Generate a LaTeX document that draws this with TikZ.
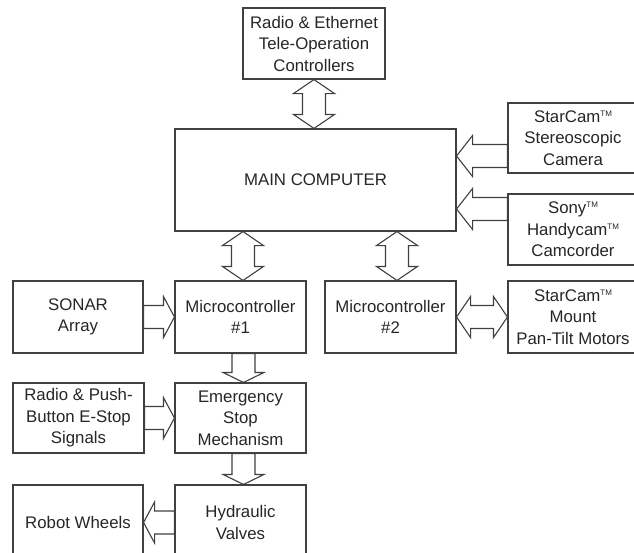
\documentclass[tikz,border=0pt]{standalone}
\usepackage{fontspec}
\setmainfont{Liberation Sans}
\usetikzlibrary{calc}

\newcommand{\shaftw}{11.5pt}
\newcommand{\headw}{20.5pt}
\newcommand{\tmk}{\raisebox{6.2pt}{\fontsize{8}{8}\selectfont TM}}

% hollow block arrow, tail at #2, tip at #3, head length #1
\newcommand{\blockarrow}[3][14pt]{%
  \draw[hollow] ($(#2)!\shaftw!90:(#3)$)
    -- ($(#3)!#1!(#2)!\shaftw!-90:(#2)$)
    -- ($(#3)!#1!(#2)!\headw!-90:(#2)$)
    -- (#3)
    -- ($(#3)!#1!(#2)!\headw!90:(#2)$)
    -- ($(#3)!#1!(#2)!\shaftw!90:(#2)$)
    -- ($(#2)!\shaftw!-90:(#3)$) -- cycle;}
% hollow block arrow with heads at both ends
\newcommand{\dblockarrow}[3][14pt]{%
  \draw[hollow] (#2)
    -- ($(#2)!#1!(#3)!\headw!90:(#3)$)
    -- ($(#2)!#1!(#3)!\shaftw!90:(#3)$)
    -- ($(#3)!#1!(#2)!\shaftw!-90:(#2)$)
    -- ($(#3)!#1!(#2)!\headw!-90:(#2)$)
    -- (#3)
    -- ($(#3)!#1!(#2)!\headw!90:(#2)$)
    -- ($(#3)!#1!(#2)!\shaftw!90:(#2)$)
    -- ($(#2)!#1!(#3)!\shaftw!-90:(#3)$)
    -- ($(#2)!#1!(#3)!\headw!-90:(#3)$)
    -- cycle;}

\begin{document}
\begin{tikzpicture}[x=1pt, y=-1pt,
  block/.style={draw=black!75, line width=1.1pt, align=center, text=black!85,
    font=\fontsize{16.8}{21.5}\selectfont, inner sep=0pt,
    minimum width=131pt, minimum height=71pt},
  hollow/.style={draw=black!75, fill=white, line width=1.1pt, line join=miter}]
  \clip (0,0) rectangle (634,552);
  % boxes
  \node[block, minimum width=142pt] (radio) at (314,43.5) {Radio \& Ethernet\\Tele-Operation\\Controllers};
  \node[block, minimum width=281pt, minimum height=102pt] (main) at (315.5,180) {MAIN COMPUTER};
  \node[block, minimum width=130pt, minimum height=70pt] (stereo) at (573,138) {StarCam\tmk\\Stereoscopic\\Camera};
  \node[block, minimum width=130pt] (sony) at (573,229.5) {Sony\tmk\\Handycam\tmk\\Camcorder};
  \node[block, minimum width=130pt, minimum height=72pt] (sonar) at (78,317) {SONAR\\Array};
  \node[block, minimum height=72pt] (mcone) at (240.5,317) {Microcontroller\\\#1};
  \node[block, minimum height=72pt] (mctwo) at (390.5,317) {Microcontroller\\\#2};
  \node[block, minimum width=130pt, minimum height=72pt] (mount) at (573,317) {StarCam\tmk\\Mount\\Pan-Tilt Motors};
  \node[block, minimum height=70pt] (estop) at (78.5,418) {Radio \& Push-\\Button E-Stop\\Signals};
  \node[block, minimum height=70pt] (emstop) at (240.5,418) {Emergency\\Stop\\Mechanism};
  \node[block, minimum width=130pt, minimum height=75pt] (wheels) at (78,522.5) {Robot Wheels};
  \node[block, minimum height=75pt] (valves) at (240.5,522.5) {Hydraulic\\Valves};
  % arrow ends
  \coordinate (rt) at (radio.south);
  \coordinate (rb) at (radio.south |- main.north);
  \coordinate (m1t) at ($(main.south -| mcone.north)+(2.5,0)$);
  \coordinate (m1b) at ($(mcone.north)+(2.5,0)$);
  \coordinate (m2t) at ($(main.south -| mctwo.north)+(6.5,0)$);
  \coordinate (m2b) at ($(mctwo.north)+(6.5,0)$);
  \coordinate (s1) at ($(stereo.west)+(0,18)$);
  \coordinate (s2) at (main.east |- s1);
  \coordinate (h1) at ($(sony.west)+(0,-20.5)$);
  \coordinate (h2) at (main.east |- h1);
  \coordinate (e1) at ($(mcone.south)+(3,0)$);
  \coordinate (e2) at ($(emstop.north)+(3,0)$);
  \coordinate (v1) at ($(emstop.south)+(3,0)$);
  \coordinate (v2) at ($(valves.north)+(3,0)$);
  % arrows
  \dblockarrow{rt}{rb}
  \dblockarrow{m1t}{m1b}
  \dblockarrow{m2t}{m2b}
  \blockarrow[16pt]{s1}{s2}
  \blockarrow[16pt]{h1}{h2}
  \blockarrow[11pt]{sonar.east}{mcone.west}
  \dblockarrow[14pt]{mctwo.east}{mount.west}
  \blockarrow[10pt]{e1}{e2}
  \blockarrow[11pt]{estop.east}{emstop.west}
  \blockarrow[10pt]{v1}{v2}
  \blockarrow[11pt]{valves.west}{wheels.east}
\end{tikzpicture}
\end{document}
